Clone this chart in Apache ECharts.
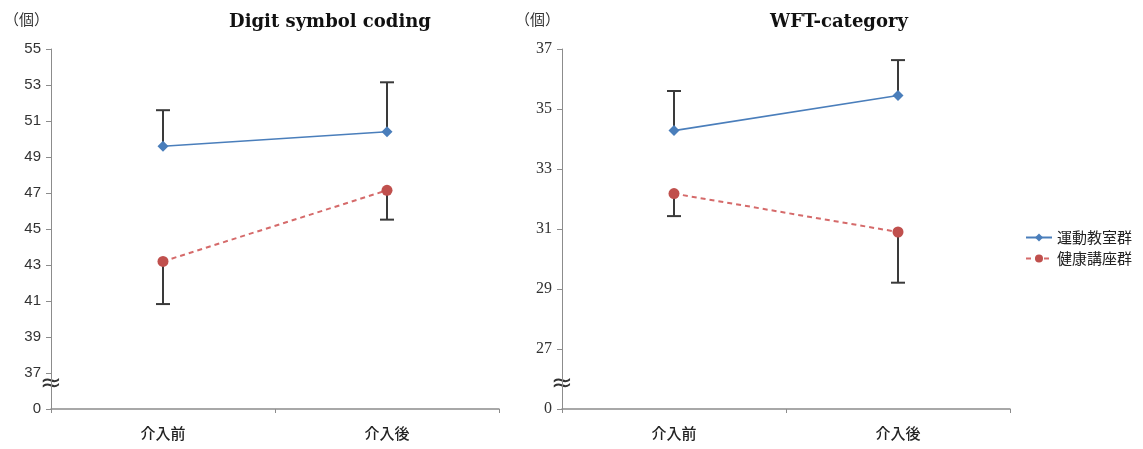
<!DOCTYPE html>
<html>
<head>
<meta charset="utf-8">
<script src="https://cdn.jsdelivr.net/npm/echarts@6/dist/echarts.min.js"></script>
<style>
html,body{margin:0;padding:0;background:#fff;}
#chart{width:1143px;height:449px;}
</style>
</head>
<body>
<div id="chart"></div>
<script>
// ---- data ----
const categories = ['介入前', '介入後'];
const groupNames = ['運動教室群', '健康講座群'];
const titles = ['Digit symbol coding', 'WFT-category'];
const unitLabel = '（個）';

const digitExercise = [49.6, 50.4];
const digitExerciseSD = [2.0, 2.75];
const digitLecture = [43.2, 47.15];
const digitLectureSD = [2.37, 1.63];

const wftExercise = [34.28, 35.45];
const wftExerciseSD = [1.32, 1.18];
const wftLecture = [32.18, 30.9];
const wftLectureSD = [0.75, 1.69];

// axis: [min, max, interval]; min is shown as "0" (axis break)
const digitAxis = [35, 55, 2];
const wftAxis = [25, 37, 2];
const breakLabel = '0';
const breakSymbol = '≈';

// ---- chart ----
const blue = '#4A7EBB';
const red = '#C0504D';
const axisGray = '#8c8c8c';
const chart = echarts.init(document.getElementById('chart'));

function errSeries(name, values, sds, dir, gi) {
  return {
    type: 'custom',
    name: name + ' SD',
    xAxisIndex: gi, yAxisIndex: gi,
    z: 1,
    silent: true,
    data: values.map((v, i) => [i, v, v + dir * sds[i]]),
    renderItem: function (params, api) {
      const p0 = api.coord([api.value(0), api.value(1)]);
      const p1 = api.coord([api.value(0), api.value(2)]);
      const hw = 7;
      const st = { stroke: '#3a3a3a', lineWidth: 2 };
      return {
        type: 'group',
        children: [
          { type: 'line', shape: { x1: p0[0], y1: p0[1], x2: p1[0], y2: p1[1] }, style: st },
          { type: 'line', shape: { x1: p1[0] - hw, y1: p1[1], x2: p1[0] + hw, y2: p1[1] }, style: st }
        ]
      };
    }
  };
}

function lineSeries(name, values, gi, isLecture) {
  return {
    type: 'line',
    name: name,
    xAxisIndex: gi, yAxisIndex: gi,
    z: 3,
    data: values,
    symbol: isLecture ? 'circle' : 'diamond',
    symbolSize: 11,
    itemStyle: { color: isLecture ? red : blue },
    lineStyle: isLecture
      ? { color: '#d56a6a', width: 2, type: [5, 4] }
      : { color: blue, width: 1.6, type: 'solid' }
  };
}

function yAxisFor(axis, gi, fontFamily, fontSize) {
  return {
    type: 'value', gridIndex: gi,
    min: axis[0], max: axis[1], interval: axis[2],
    name: unitLabel,
    nameLocation: 'end',
    nameGap: 22,
    nameTextStyle: { fontFamily: 'Noto Sans CJK JP', fontSize: 15, color: '#333', align: 'right', padding: [0, 2, 0, 0] },
    axisLine: { show: true, lineStyle: { color: axisGray, width: 1 } },
    axisTick: { show: true, length: 5, lineStyle: { color: axisGray } },
    splitLine: { show: false },
    axisLabel: {
      fontFamily: fontFamily, fontSize: fontSize, color: '#333', margin: 10,
      formatter: v => (v === axis[0] ? breakLabel : String(v))
    }
  };
}

function xAxisFor(gi) {
  return {
    type: 'category', gridIndex: gi, data: categories,
    axisLine: { show: true, lineStyle: { color: axisGray, width: 1.5 } },
    axisTick: { show: true, length: 4, lineStyle: { color: axisGray } },
    axisLabel: { fontFamily: 'Noto Sans CJK JP', fontSize: 15, color: '#222', margin: 17, fontWeight: 500 }
  };
}

const option = {
  animation: false,
  backgroundColor: '#fff',
  title: [
    { text: titles[0], left: 325, top: 8, textAlign: 'center',
      textStyle: { fontFamily: 'DejaVu Serif', fontWeight: 'bold', fontSize: 18, color: '#111' } },
    { text: titles[1], left: 834, top: 8, textAlign: 'center',
      textStyle: { fontFamily: 'DejaVu Serif', fontWeight: 'bold', fontSize: 18, color: '#111' } }
  ],
  legend: {
    orient: 'vertical', left: 1020, top: 225, itemGap: 6,
    itemWidth: 26, itemHeight: 10,
    data: groupNames,
    textStyle: { fontFamily: 'Noto Sans CJK JP', fontSize: 15, color: '#222' }
  },
  grid: [
    { left: 51, top: 49, width: 448, bottom: 40 },
    { left: 562, top: 49, width: 448, bottom: 40 }
  ],
  xAxis: [xAxisFor(0), xAxisFor(1)],
  yAxis: [yAxisFor(digitAxis, 0, 'Liberation Sans', 15), yAxisFor(wftAxis, 1, 'Liberation Serif', 16)],
  series: [
    errSeries(groupNames[0], digitExercise, digitExerciseSD, 1, 0),
    errSeries(groupNames[1], digitLecture, digitLectureSD, -1, 0),
    errSeries(groupNames[0], wftExercise, wftExerciseSD, 1, 1),
    errSeries(groupNames[1], wftLecture, wftLectureSD, -1, 1),
    lineSeries(groupNames[0], digitExercise, 0, false),
    lineSeries(groupNames[1], digitLecture, 0, true),
    lineSeries(groupNames[0], wftExercise, 1, false),
    lineSeries(groupNames[1], wftLecture, 1, true)
  ]
};
chart.setOption(option);

// axis-break symbols, placed just above the "0" tick
const axesCfg = [digitAxis, wftAxis];
const breaks = axesCfg.map((ax, gi) => {
  const py = chart.convertToPixel({ yAxisIndex: gi }, ax[0]);
  const gridLeft = option.grid[gi].left;
  return {
    type: 'text', left: gridLeft - 11, top: py - 38,
    style: { text: breakSymbol, font: '26px "DejaVu Sans"', fill: '#333' }
  };
});
chart.setOption({ graphic: breaks });
</script>
</body>
</html>
